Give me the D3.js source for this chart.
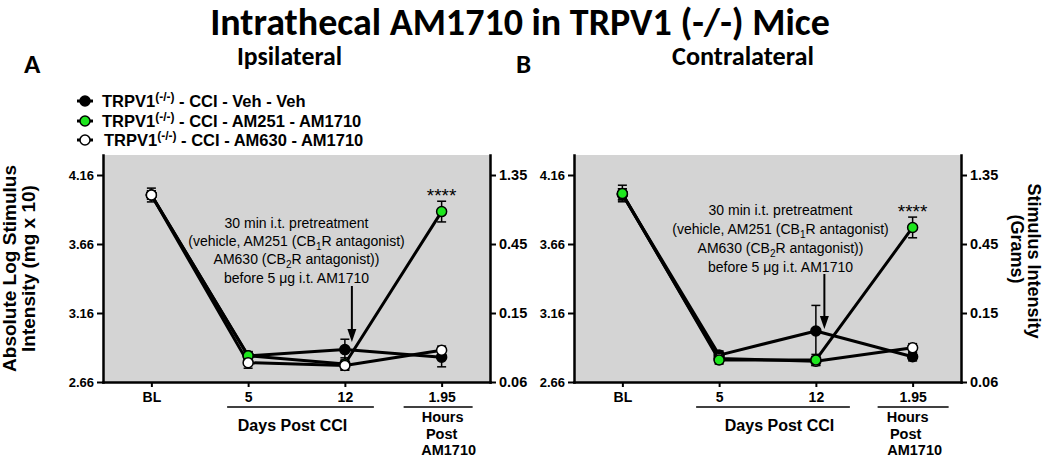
<!DOCTYPE html>
<html><head><meta charset="utf-8">
<script src="https://cdn.jsdelivr.net/npm/d3@7"></script>
<style>body{margin:0;background:#fff} svg{display:block}</style>
</head><body>
<svg id="chart" width="1050" height="457"></svg>
<script>
// ---------- data ----------
const categories = ["BL", "5", "12", "1.95"];
const leftTicks = [2.66, 3.16, 3.66, 4.16];
const rightTickLabels = ["0.06", "0.15", "0.45", "1.35"];
const seriesNames = ["Veh - Veh", "AM251 - AM1710", "AM630 - AM1710"];

// Panel A: Ipsilateral (log stimulus intensity, mean and SEM)
const ipsiVehVeh = [4.015, 2.85, 2.895, 2.84];
const ipsiVehVehErr = [0.03, 0.03, 0.075, 0.07];
const ipsiAM251 = [4.015, 2.85, 2.79, 3.895];
const ipsiAM251Err = [0.03, 0.03, 0.045, 0.075];
const ipsiAM630 = [4.015, 2.80, 2.78, 2.89];
const ipsiAM630Err = [0.05, 0.04, 0.03, 0.03];

// Panel B: Contralateral
const contraVehVeh = [4.02, 2.855, 3.03, 2.843];
const contraVehVehErr = [0.04, 0.03, 0.185, 0.03];
const contraAM251 = [4.026, 2.82, 2.82, 3.78];
const contraAM251Err = [0.06, 0.03, 0.04, 0.075];
const contraAM630 = [4.02, 2.83, 2.81, 2.908];
const contraAM630Err = [0.04, 0.03, 0.03, 0.03];

// ---------- styles ----------
const SANS = "'Liberation Sans', Arial, sans-serif";
const HEAD = "Carlito, Lato, 'Open Sans', sans-serif";
const fills = ["#000000", "#1ee61e", "#ffffff"];
const yTopValue = 4.305;

const svg = d3.select("#chart");

function fitText(sel, targetW) {
  const w = sel.node().getComputedTextLength();
  const fs = parseFloat(sel.attr("font-size"));
  sel.attr("font-size", fs * targetW / w);
}

// Main title
svg.append("text").attr("x", 520).attr("y", 35).attr("text-anchor", "middle")
  .attr("font-family", HEAD).attr("font-weight", "bold").attr("font-size", 36)
  .text("Intrathecal AM1710 in TRPV1 (-/-) Mice").call(fitText, 620);

const panels = [
  {
    letter: "A", letterX: 24, left: 103, subtitle: "Ipsilateral", subX: 237, subW: 105,
    series: [
      {v: ipsiVehVeh, e: ipsiVehVehErr, f: fills[0]},
      {v: ipsiAM251, e: ipsiAM251Err, f: fills[1]},
      {v: ipsiAM630, e: ipsiAM630Err, f: fills[2]}
    ],
    order: [0, 1, 2], starSeries: 1,
    annotDX: 0, annotY0: 228, annotDY: 18.2,
    arrowDX: 7, arrowTop: 286, arrowTip: 342,
    daysLine: [-21, 29], daysText: -4, hoursLine: [-38, 31], hoursX: [1, 0, 7], hoursY: [422, 439, 455],
    leftTitle: true, rightTitle: false
  },
  {
    letter: "B", letterX: 516, left: 574, subtitle: "Contralateral", subX: 672, subW: 142,
    series: [
      {v: contraVehVeh, e: contraVehVehErr, f: fills[0]},
      {v: contraAM251, e: contraAM251Err, f: fills[1]},
      {v: contraAM630, e: contraAM630Err, f: fills[2]}
    ],
    order: [0, 2, 1], starSeries: 1,
    annotDX: 13, annotY0: 214.5, annotDY: 19,
    arrowDX: 8.5, arrowTop: 274, arrowTip: 329,
    daysLine: [-23, 34], daysText: 12, hoursLine: [-35, 36], hoursX: [-5, -7, 2], hoursY: [422, 439, 455],
    leftTitle: false, rightTitle: true
  }
];

const W = 387, TOP = 155, BOTTOM = 382;

panels.forEach(p => {
  const g = svg.append("g");
  const x = d3.scalePoint().domain(categories).range([p.left, p.left + W]).padding(0.5);
  const y = d3.scaleLinear().domain([2.66, yTopValue]).range([BOTTOM, TOP]);

  // letter + subtitle
  g.append("text").attr("x", p.letterX).attr("y", 73).attr("font-family", HEAD)
    .attr("font-weight", "bold").attr("font-size", 27).text(p.letter);
  g.append("text").attr("x", p.subX).attr("y", 65).attr("font-family", HEAD)
    .attr("font-weight", "bold").attr("font-size", 25).text(p.subtitle).call(fitText, p.subW);

  // plot background
  g.append("rect").attr("x", p.left).attr("y", TOP).attr("width", W).attr("height", BOTTOM - TOP)
    .attr("fill", "#d4d4d4");

  // axes
  const styleAxis = (sel, fs) => {
    sel.select(".domain").attr("stroke-width", 2.5).attr("stroke", "#000");
    sel.selectAll(".tick line").attr("stroke-width", 2).attr("stroke", "#000");
    sel.selectAll(".tick text").attr("font-family", SANS).attr("font-weight", "bold")
      .attr("font-size", fs).attr("fill", "#000");
  };
  g.append("g").attr("transform", `translate(${p.left},0)`)
    .call(d3.axisLeft(y).tickValues(leftTicks).tickFormat(d3.format(".2f")).tickSize(6).tickSizeOuter(0).tickPadding(3))
    .call(s => styleAxis(s, 13));
  g.append("g").attr("transform", `translate(${p.left + W},0)`)
    .call(d3.axisRight(y).tickValues(leftTicks).tickFormat((d, i) => rightTickLabels[i]).tickSize(6).tickSizeOuter(0).tickPadding(3))
    .call(s => styleAxis(s, 14.5));
  g.append("g").attr("transform", `translate(0,${BOTTOM})`)
    .call(d3.axisBottom(x).tickSize(5).tickSizeOuter(0).tickPadding(5))
    .call(s => styleAxis(s, 14));
  g.selectAll(".domain").attr("stroke-linecap", "square");

  // x group labels
  const xd0 = x("5"), xd1 = x("12"), xh = x("1.95");
  g.append("line").attr("x1", xd0 + p.daysLine[0]).attr("x2", xd1 + p.daysLine[1])
    .attr("y1", 407).attr("y2", 407).attr("stroke", "#000").attr("stroke-width", 1.5);
  g.append("text").attr("x", (xd0 + xd1) / 2 + p.daysText).attr("y", 431).attr("text-anchor", "middle")
    .attr("font-family", SANS).attr("font-weight", "bold").attr("font-size", 16).text("Days Post CCI");
  g.append("line").attr("x1", xh + p.hoursLine[0]).attr("x2", xh + p.hoursLine[1])
    .attr("y1", 407).attr("y2", 407).attr("stroke", "#000").attr("stroke-width", 1.5);
  ["Hours", "Post", "AM1710"].forEach((t, i) => {
    g.append("text").attr("x", xh + p.hoursX[i]).attr("y", p.hoursY[i]).attr("text-anchor", "middle")
      .attr("font-family", SANS).attr("font-weight", "bold").attr("font-size", 14.5).text(t);
  });

  // series lines
  const line = d3.line().x((d, i) => x(categories[i])).y(d => y(d));
  p.order.forEach(k => {
    const s = p.series[k];
    g.append("path").attr("d", line(s.v)).attr("fill", "none").attr("stroke", "#000")
      .attr("stroke-width", 3).attr("stroke-linejoin", "round");
  });
  // error bars
  p.order.forEach(k => {
    const s = p.series[k];
    s.v.forEach((v, i) => {
      const cx = x(categories[i]);
      const y1 = y(v + s.e[i]), y0 = y(v - s.e[i]);
      g.append("line").attr("x1", cx).attr("x2", cx).attr("y1", y1).attr("y2", y0)
        .attr("stroke", "#000").attr("stroke-width", 1.5);
      [y1, y0].forEach(yy => g.append("line").attr("x1", cx - 4.5).attr("x2", cx + 4.5)
        .attr("y1", yy).attr("y2", yy).attr("stroke", "#000").attr("stroke-width", 1.5));
    });
  });
  // markers
  p.order.forEach(k => {
    const s = p.series[k];
    s.v.forEach((v, i) => {
      g.append("circle").attr("cx", x(categories[i])).attr("cy", y(v)).attr("r", 5)
        .attr("fill", s.f).attr("stroke", "#000").attr("stroke-width", 1.5);
    });
  });

  // significance stars
  const ss = p.series[p.starSeries];
  g.append("text").attr("x", x("1.95")).attr("y", y(ss.v[3] + ss.e[3]) + 1).attr("text-anchor", "middle")
    .attr("font-family", SANS).attr("font-size", 19).text("****");

  // annotation
  const ax = (xd0 + xd1) / 2 + p.annotDX;
  const lines = [
    [["30 min i.t. pretreatment", 0]],
    [["(vehicle, AM251 (CB", 0], ["1", 1], ["R antagonist)", 0]],
    [["AM630 (CB", 0], ["2", 1], ["R antagonist))", 0]],
    [["before 5 \u03bcg i.t. AM1710", 0]]
  ];
  lines.forEach((parts, li) => {
    const t = g.append("text").attr("font-family", SANS).attr("font-size", 14).attr("text-anchor", "middle")
      .attr("x", ax).attr("y", p.annotY0 + li * p.annotDY);
    parts.forEach(([txt, sub], j) => {
      const ts = t.append("tspan").text(txt);
      if (sub) ts.attr("font-size", 10).attr("dy", 4);
      else if (j > 0) ts.attr("dy", -4);
    });
  });

  // arrow
  const arx = x("12") + p.arrowDX;
  g.append("line").attr("x1", arx).attr("x2", arx).attr("y1", p.arrowTop).attr("y2", p.arrowTip - 10)
    .attr("stroke", "#000").attr("stroke-width", 2);
  g.append("path").attr("d", `M${arx - 4.5},${p.arrowTip - 13}L${arx + 4.5},${p.arrowTip - 13}L${arx},${p.arrowTip}Z`)
    .attr("fill", "#000");

  // axis titles
  if (p.leftTitle) {
    g.append("text").attr("transform", `translate(16,${(TOP + BOTTOM) / 2}) rotate(-90)`)
      .attr("text-anchor", "middle").attr("font-family", SANS).attr("font-weight", "bold")
      .attr("font-size", 19).text("Absolute Log Stimulus");
    g.append("text").attr("transform", `translate(35,${(TOP + BOTTOM) / 2}) rotate(-90)`)
      .attr("text-anchor", "middle").attr("font-family", SANS).attr("font-weight", "bold")
      .attr("font-size", 19).text("Intensity (mg x 10)");
  }
  if (p.rightTitle) {
    g.append("text").attr("transform", `translate(1028,261) rotate(90)`)
      .attr("text-anchor", "middle").attr("font-family", SANS).attr("font-weight", "bold")
      .attr("font-size", 18).text("Stimulus Intensity");
    g.append("text").attr("transform", `translate(1011,249) rotate(90)`)
      .attr("text-anchor", "middle").attr("font-family", SANS).attr("font-weight", "bold")
      .attr("font-size", 18).text("(Grams)");
  }
});

// legend (panel A)
const legendY = [101, 121, 140];
const legendX = [102, 102, 104];
seriesNames.forEach((name, i) => {
  const lg = svg.append("g");
  lg.append("line").attr("x1", 77).attr("x2", 93).attr("y1", legendY[i]).attr("y2", legendY[i])
    .attr("stroke", "#000").attr("stroke-width", 3);
  lg.append("circle").attr("cx", 85).attr("cy", legendY[i]).attr("r", 5)
    .attr("fill", fills[i]).attr("stroke", "#000").attr("stroke-width", 1.5);
  const t = lg.append("text").attr("x", legendX[i]).attr("y", legendY[i] + 6)
    .attr("font-family", SANS).attr("font-weight", "bold").attr("font-size", 16.5);
  t.append("tspan").text("TRPV1");
  t.append("tspan").attr("font-size", 12).attr("dy", -6).text("(-/-)");
  t.append("tspan").attr("dy", 6).text(" - CCI - " + name);
});
</script>
</body></html>
